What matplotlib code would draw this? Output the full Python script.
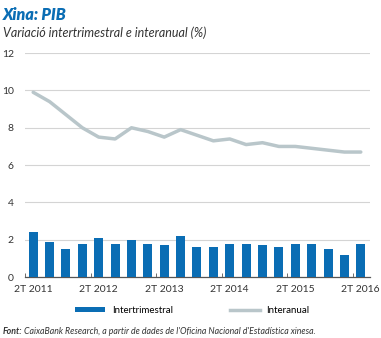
import matplotlib.pyplot as plt
from matplotlib.lines import Line2D
from matplotlib.patches import Patch
import numpy as np

plt.rcParams['font.family'] = ['Lato', 'DejaVu Sans']

trimestres = ['2T 2011', '3T 2011', '4T 2011', '1T 2012', '2T 2012', '3T 2012', '4T 2012',
              '1T 2013', '2T 2013', '3T 2013', '4T 2013', '1T 2014', '2T 2014', '3T 2014',
              '4T 2014', '1T 2015', '2T 2015', '3T 2015', '4T 2015', '1T 2016', '2T 2016']
intertrimestral = [2.4, 1.9, 1.5, 1.8, 2.1, 1.8, 2.0, 1.8, 1.7, 2.2, 1.6,
                   1.6, 1.8, 1.8, 1.7, 1.6, 1.8, 1.8, 1.5, 1.2, 1.8]
interanual = [9.9, 9.4, 8.7, 8.0, 7.5, 7.4, 8.0, 7.8, 7.5, 7.9, 7.6,
              7.3, 7.4, 7.1, 7.2, 7.0, 7.0, 6.9, 6.8, 6.7, 6.7]

blau = '#0a6db4'
gris = '#b9c6ca'

fig = plt.figure(figsize=(3.81, 3.38), dpi=100)
ax = fig.add_axes([0.0656, 0.180, 0.905, 0.663])

x = np.arange(len(trimestres))
ax.bar(x, intertrimestral, width=0.55, color=blau, zorder=3)
ax.plot(x, interanual, color=gris, lw=2.5, zorder=4, solid_capstyle='round')

ax.set_ylim(0, 12)
ax.set_xlim(-0.5, 20.55)
ax.set_yticks([0, 2, 4, 6, 8, 10, 12])
ax.grid(axis='y', color='#d4d4d4', lw=0.8, zorder=0)
ax.set_axisbelow(True)

etiq = list(range(0, len(trimestres), 4))
ax.set_xticks(etiq)
ax.set_xticklabels([trimestres[i] for i in etiq])
ax.set_xticks(np.arange(-0.5, 20, 4), minor=True)
ax.tick_params(axis='x', which='major', length=0, labelsize=7.5, pad=6, colors='#333333')
ax.tick_params(axis='x', which='minor', length=3, direction='in', color='#555555')
ax.tick_params(axis='y', length=0, labelsize=7.5, pad=8, colors='#333333')

for s in ['top', 'right', 'left']:
    ax.spines[s].set_visible(False)
ax.spines['bottom'].set_color('#555555')
ax.spines['bottom'].set_linewidth(0.9)

fig.text(0.008, 0.955, 'Xina: PIB', fontsize=11.5, fontweight='heavy', style='italic',
         color=blau, va='center')
fig.text(0.008, 0.902, 'Variació intertrimestral e interanual (%)', fontsize=9,
         style='italic', color='#333333', va='center')

handles = [Patch(facecolor=blau, edgecolor='none'),
           Line2D([0], [0], color=gris, lw=2.5)]
fig.legend(handles, ['Intertrimestral', 'Interanual'], loc='center',
           bbox_to_anchor=(0.505, 0.081), ncol=2, frameon=False, fontsize=7,
           handlelength=3.1, handleheight=0.5, columnspacing=5.8, handletextpad=0.7)

t = fig.text(0.008, 0.019, 'Font:', fontsize=6.3, style='italic', fontweight='bold',
             color='#333333', va='center')
fig.canvas.draw()
bb = t.get_window_extent()
x1 = bb.x1 / fig.bbox.width
fig.text(x1 + 0.004, 0.019,
         "CaixaBank Research, a partir de dades de l'Oficina Nacional d'Estadística xinesa.",
         fontsize=6.3, style='italic', color='#333333', va='center')

fig.savefig('out.png', dpi=100)
